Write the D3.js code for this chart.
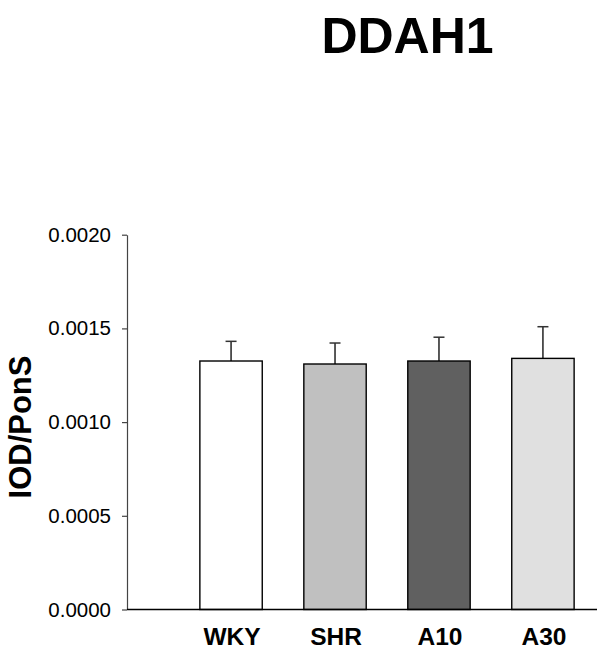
<!DOCTYPE html>
<html>
<head>
<meta charset="utf-8">
<script src="https://cdn.jsdelivr.net/npm/d3@7"></script>
<style>
  body { margin: 0; background: #fff; }
  text { font-family: "Liberation Sans", Arial, sans-serif; }
</style>
</head>
<body>
<svg width="597" height="652"></svg>
<script>
var groups = ["WKY", "SHR", "A10", "A30"];
var means = [0.001326, 0.001310, 0.001326, 0.001340];
var errors = [0.000105, 0.000112, 0.000127, 0.000169];
var fills = ["#ffffff", "#c0c0c0", "#606060", "#e0e0e0"];
var yTicks = [0, 0.0005, 0.0010, 0.0015, 0.0020];

var svg = d3.select("svg"),
	width = +svg.attr("width"),
	height = +svg.attr("height");

var axisLeft = 127, axisRight = 597;

var y = d3.scaleLinear()
	.domain([0, 0.002])
	.range([609.5, 234.7]);

var x = d3.scaleBand()
	.domain(groups)
	.range([177, 597])
	.paddingInner(0.4)
	.paddingOuter(0.22);

// title
svg.append("text")
	.attr("x", 407.5)
	.attr("y", 53)
	.attr("text-anchor", "middle")
	.style("font-size", "50px")
	.style("font-weight", "bold")
	.text("DDAH1");

// y axis
var yAxis = svg.append("g")
	.attr("transform", "translate(" + axisLeft + ",0)")
	.call(d3.axisLeft(y)
		.tickValues(yTicks)
		.tickFormat(d3.format(".4f"))
		.tickSize(5)
		.tickSizeOuter(0)
		.tickPadding(11));

yAxis.select(".domain").attr("stroke", "#444").attr("stroke-width", 1.2);
yAxis.selectAll(".tick line").attr("stroke", "#444").attr("stroke-width", 1.2);
yAxis.selectAll(".tick text")
	.attr("fill", "#000")
	.style("font-family", "'Liberation Sans', Arial, sans-serif")
	.style("font-size", "20.5px");

// y label
svg.append("text")
	.attr("transform", "translate(30.5,427) rotate(-90)")
	.attr("text-anchor", "middle")
	.style("font-size", "31px")
	.style("font-weight", "bold")
	.text("IOD/PonS");

// bars
var bars = svg.append("g").selectAll("g")
	.data(groups)
	.enter().append("g");

// error bars (upper only)
bars.append("line")
	.attr("x1", function(d) { return x(d) + x.bandwidth() / 2; })
	.attr("x2", function(d) { return x(d) + x.bandwidth() / 2; })
	.attr("y1", function(d, i) { return y(means[i]); })
	.attr("y2", function(d, i) { return y(means[i] + errors[i]); })
	.attr("stroke", "#000")
	.attr("stroke-width", 1.3);

bars.append("line")
	.attr("x1", function(d) { return x(d) + x.bandwidth() / 2 - 5.5; })
	.attr("x2", function(d) { return x(d) + x.bandwidth() / 2 + 5.5; })
	.attr("y1", function(d, i) { return y(means[i] + errors[i]); })
	.attr("y2", function(d, i) { return y(means[i] + errors[i]); })
	.attr("stroke", "#333")
	.attr("stroke-width", 1.5);

bars.append("rect")
	.attr("x", function(d) { return x(d); })
	.attr("y", function(d, i) { return y(means[i]); })
	.attr("width", x.bandwidth())
	.attr("height", function(d, i) { return y(0) - y(means[i]); })
	.attr("fill", function(d, i) { return fills[i]; })
	.attr("stroke", "#000")
	.attr("stroke-width", 1.4);

// baseline
svg.append("line")
	.attr("x1", axisLeft)
	.attr("x2", axisRight)
	.attr("y1", y(0))
	.attr("y2", y(0))
	.attr("stroke", "#000")
	.attr("stroke-width", 1.5);

// x labels
svg.append("g").selectAll("text")
	.data(groups)
	.enter().append("text")
	.attr("x", function(d) { return x(d) + x.bandwidth() / 2 + 1; })
	.attr("y", 645)
	.attr("text-anchor", "middle")
	.style("font-size", "24.5px")
	.style("font-weight", "bold")
	.text(function(d) { return d; });
</script>
</body>
</html>
